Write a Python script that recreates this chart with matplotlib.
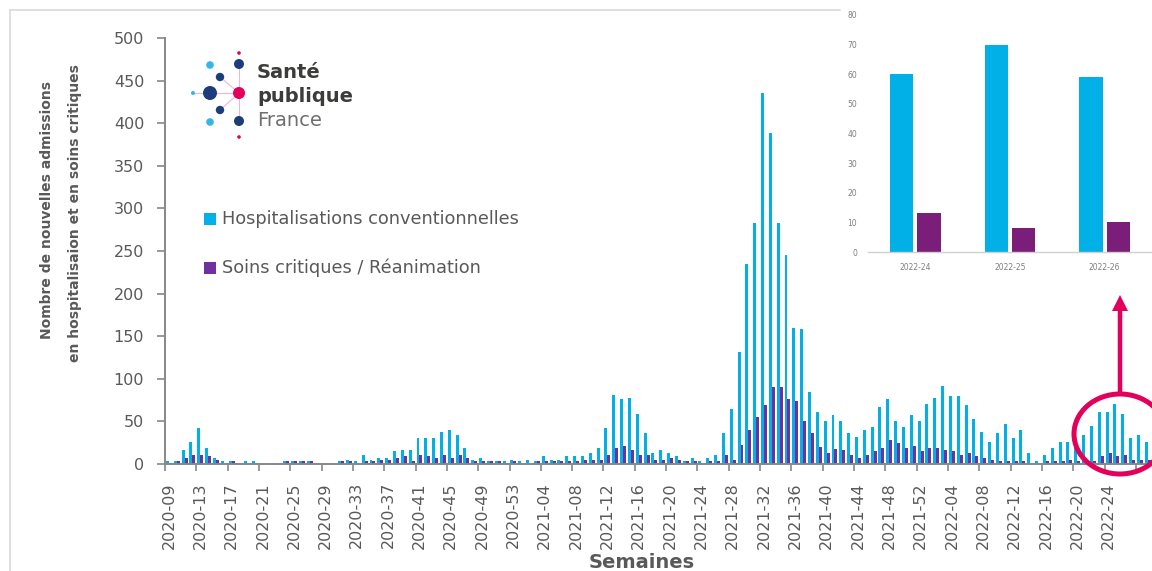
import matplotlib
matplotlib.use("Agg")
import matplotlib.pyplot as plt
from matplotlib.patches import Rectangle, Ellipse, FancyArrow, Circle
import numpy as np

# ---------------- data ----------------
weeks = ([f"2020-{w:02d}" for w in range(9, 54)]
         + [f"2021-{w:02d}" for w in range(1, 53)]
         + [f"2022-{w:02d}" for w in range(1, 30)])

hosp = [3, 3, 16, 26, 42, 19, 7, 3, 3, 0,
        3, 3, 0, 0, 0, 3, 3, 3, 3, 0,
        0, 0, 3, 5, 3, 11, 5, 7, 7, 15,
        17, 17, 30, 30, 30, 38, 40, 34, 19, 5,
        7, 3, 3, 3, 5, 3, 5, 3, 9, 5,
        5, 9, 9, 9, 13, 19, 42, 81, 76, 78,
        59, 36, 13, 17, 13, 9, 3, 7, 3, 7,
        11, 36, 65, 131, 235, 283, 436, 388, 283, 245,
        160, 158, 84, 61, 51, 57, 51, 36, 32, 40,
        44, 67, 76, 50, 44, 57, 50, 71, 78, 92,
        80, 80, 69, 53, 38, 26, 36, 47, 30, 40,
        13, 3, 11, 19, 26, 26, 28, 34, 45, 61,
        61, 71, 59, 30, 34, 26]

crit = [1, 3, 7, 11, 11, 9, 5, 0, 3, 0,
        0, 0, 0, 0, 0, 3, 3, 3, 3, 0,
        0, 0, 3, 3, 0, 3, 3, 5, 5, 7,
        9, 3, 11, 9, 7, 11, 7, 11, 7, 3,
        3, 3, 3, 0, 3, 0, 0, 3, 3, 3,
        3, 3, 3, 5, 5, 5, 11, 19, 21, 17,
        11, 11, 5, 5, 7, 5, 3, 3, 0, 3,
        3, 11, 5, 22, 40, 55, 69, 90, 90, 76,
        74, 51, 36, 20, 13, 18, 16, 11, 7, 11,
        15, 19, 28, 25, 19, 21, 15, 19, 19, 17,
        15, 11, 13, 9, 7, 5, 3, 3, 3, 3,
        0, 0, 3, 3, 3, 5, 3, 3, 3, 9,
        13, 9, 11, 5, 5, 5]

inset_weeks = ["2022-24", "2022-25", "2022-26"]
inset_hosp = [60, 70, 59]
inset_crit = [13, 8, 10]

legend_labels = ["Hospitalisations conventionnelles", "Soins critiques / Réanimation"]

# ---------------- style ----------------
BLUE = "#00B0E6"
PURPLE = "#7030A0"
INSET_PURPLE = "#7B1E7A"
MAGENTA = "#E2005A"
NAVY = "#1D3C7C"
LIGHTBLUE = "#35B6E6"
GREY = "#595959"
AXGREY = "#878787"

W, H = 1152, 571
fig = plt.figure(figsize=(W / 100, H / 100), dpi=100)
fig.patch.set_facecolor("white")

# ---------------- main axes ----------------
ax = fig.add_axes([165 / W, 1 - 464 / H, (1151.6 - 165) / W, (464 - 38) / H])
x = np.arange(len(weeks))
ax.bar(x - 0.19, hosp, 0.38, color=BLUE, linewidth=0)
ax.bar(x + 0.19, crit, 0.38, color=PURPLE, linewidth=0)
ax.set_xlim(-0.5, len(weeks) - 0.5)
ax.set_ylim(0, 500)
ax.set_yticks(np.arange(0, 501, 50))
for s in ["top", "right"]:
    ax.spines[s].set_visible(False)
for s in ["left", "bottom"]:
    ax.spines[s].set_color(AXGREY)
    ax.spines[s].set_linewidth(1.4)
ax.tick_params(axis="y", length=6, width=1.2, color=AXGREY, labelcolor=GREY,
               labelsize=11.5, pad=9)
ax.set_xticks(x[:121:4])
ax.set_xticklabels(weeks[:121:4], rotation=90, fontsize=11.5, color=GREY)
ax.tick_params(axis="x", which="major", length=0, pad=13)
ax.set_xticks(np.arange(-0.5, len(weeks), 4), minor=True)
ax.tick_params(axis="x", which="minor", length=5, width=1.2, color=AXGREY)
ax.patch.set_alpha(0)

# ---------------- inset ----------------
ins = fig.add_axes([868 / W, 1 - 252 / H, (1152 - 868) / W, (252 - 15) / H], zorder=3)
xi = np.arange(len(inset_weeks))
ins.bar(xi - 0.145, inset_hosp, 0.245, color=BLUE, linewidth=0)
ins.bar(xi + 0.145, inset_crit, 0.245, color=INSET_PURPLE, linewidth=0)
ins.set_xlim(-0.5, 2.5)
ins.set_ylim(0, 80)
ins.set_yticks(np.arange(0, 81, 10))
ins.set_xticks(xi)
ins.set_xticklabels(inset_weeks, fontsize=5.5, color="#7F7F7F")
ins.tick_params(axis="y", length=0, labelsize=5.5, labelcolor="#7F7F7F", pad=8)
ins.tick_params(axis="x", length=0, pad=8)
for s in ["top", "right", "left"]:
    ins.spines[s].set_visible(False)
ins.spines["bottom"].set_color("#D0D0D0")
ins.spines["bottom"].set_linewidth(1.0)
ins.patch.set_alpha(0)

# ---------------- overlay (pixel coordinates) ----------------
ov = fig.add_axes([0, 0, 1, 1], zorder=5)
ov.set_xlim(0, W)
ov.set_ylim(H, 0)
ov.axis("off")
ov.patch.set_alpha(0)

# outer frame
ov.plot([10, 10], [10, H], color="#D9D9D9", lw=1.2)
ov.plot([10, 840], [10, 10], color="#D9D9D9", lw=1.2)

# y label (two lines)
ov.text(47, 210, "Nombre de nouvelles admissions", rotation=90, ha="center", va="center",
        fontsize=10, fontweight="bold", color=GREY)
ov.text(75, 213, "en hospitalisaion et en soins critiques", rotation=90, ha="center",
        va="center", fontsize=10, fontweight="bold", color=GREY)
# x label
ov.text(642, 563, "Semaines", ha="center", va="center", fontsize=14,
        fontweight="bold", color=GREY)

# legend
for (yy, col, lab) in [(219, BLUE, legend_labels[0]), (268, PURPLE, legend_labels[1])]:
    ov.add_patch(Rectangle((204, yy - 6), 12, 12, color=col, lw=0))
    ov.text(222, yy, lab, ha="left", va="center", fontsize=12.8, color=GREY)

# logo
center = (239, 93)
for (px, py) in [(210, 93), (220, 77), (220, 110), (239, 63), (239, 120), (193, 93)]:
    ov.plot([center[0], px], [center[1], py], color="#F3B7CB", lw=0.8, zorder=1)
dots = [
    (239, 53, 1.8, MAGENTA), (210, 65, 3.8, LIGHTBLUE), (239, 64, 5.0, NAVY),
    (220, 77, 4.2, NAVY), (193, 93, 2.0, LIGHTBLUE), (210, 93, 7.0, NAVY),
    (239, 93, 6.0, MAGENTA), (220, 110, 4.2, NAVY), (210, 122, 3.8, LIGHTBLUE),
    (239, 121, 5.0, NAVY), (239, 137, 1.8, MAGENTA),
]
for (cx, cy, r, c) in dots:
    ov.add_patch(Circle((cx, cy), r, color=c, lw=0, zorder=2))
ov.text(257, 72, "Santé", ha="left", va="center", fontsize=14, fontweight="bold",
        color="#3C3C3B")
ov.text(257, 96, "publique", ha="left", va="center", fontsize=14, fontweight="bold",
        color="#3C3C3B")
ov.text(257, 121, "France", ha="left", va="center", fontsize=14, color="#6F6F6E")

# callout circle and arrow
ov.add_patch(Ellipse((1120, 434), 92, 80, fill=False, ec=MAGENTA, lw=3.6))
ov.add_patch(FancyArrow(1120, 393, 0, -98, width=4.5, head_width=16, head_length=16,
                        length_includes_head=True, color=MAGENTA, lw=0))

fig.savefig("out.png", dpi=100)
